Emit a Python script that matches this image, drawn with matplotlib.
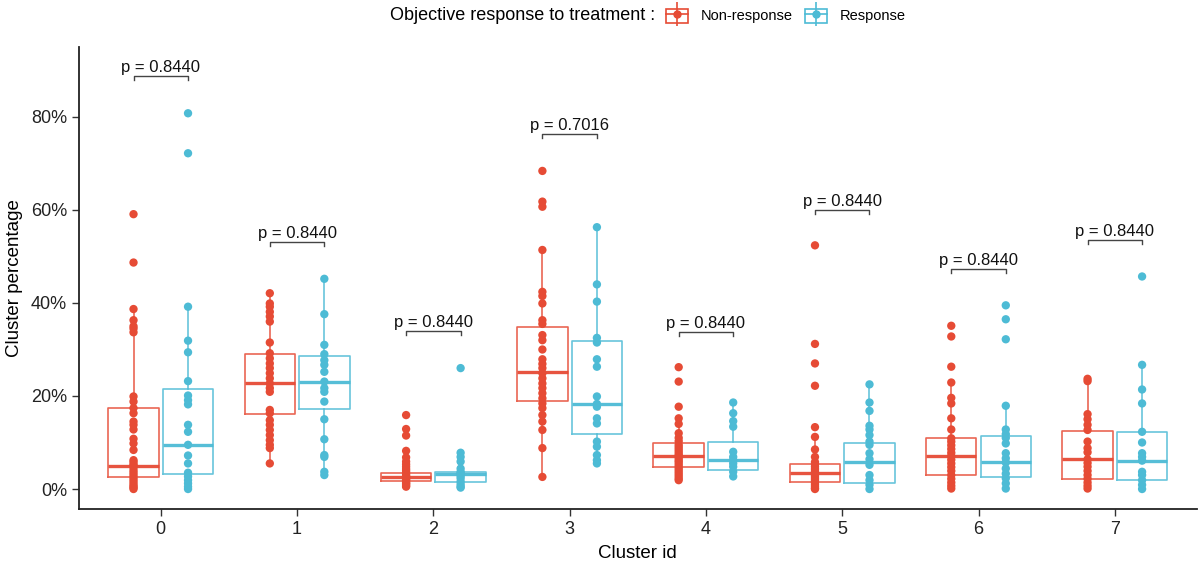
#!/usr/bin/env python3
"""
Cluster percentage by objective response, boxplots with points and p-value brackets
"""

import matplotlib
matplotlib.use("Agg")
import matplotlib.pyplot as plt
from matplotlib.lines import Line2D
from matplotlib.patches import Patch
from matplotlib.legend_handler import HandlerTuple
from matplotlib.ticker import PercentFormatter

plt.rcParams['font.family'] = ['Liberation Sans', 'DejaVu Sans']

# ---- data (percent) ----
clusters = ['0', '1', '2', '3', '4', '5', '6', '7']
groups = ['Non-response', 'Response']
colors = ['#E64B35', '#4DBBD5']

pts_nonresp = [
    [59.1, 48.7, 38.7, 36.3, 35.0, 34.5, 33.7, 19.9, 18.8, 17.4, 16.3, 14.5, 13.8, 12.8, 10.8, 9.8,
     8.4, 6.2, 5.8, 5.3, 5.0, 4.6, 4.0, 3.5, 3.0, 2.5, 2.0, 1.5, 1.0, 0.6, 0.3, 0.0],
    [42.1, 39.9, 39.2, 38.1, 37.1, 36.0, 31.5, 29.2, 28.1, 27.0, 26.0, 24.9, 23.8, 22.7, 21.7, 20.9,
     17.0, 16.3, 14.8, 13.8, 12.7, 11.6, 10.5, 9.5, 8.8, 5.5],
    [15.9, 12.9, 11.5, 8.2, 6.8, 5.9, 5.3, 4.8, 4.3, 3.9, 3.5, 3.1, 2.8, 2.5, 2.2, 2.0, 1.7, 1.4,
     1.2, 1.0, 0.7, 0.5],
    [68.4, 61.8, 60.7, 51.4, 42.4, 41.5, 39.9, 36.3, 35.5, 33.1, 32.0, 30.0, 27.9, 26.9, 26.0, 24.9,
     23.8, 22.7, 21.7, 20.6, 19.5, 18.4, 17.4, 15.9, 14.5, 12.7, 8.8, 2.6],
    [26.2, 23.1, 17.7, 15.2, 14.0, 12.0, 11.0, 10.3, 9.5, 9.0, 8.5, 8.0, 7.5, 7.1, 6.7, 6.2, 5.8,
     5.3, 4.8, 4.3, 3.8, 3.3, 2.8, 2.3, 1.9],
    [52.4, 31.2, 27.0, 22.2, 13.3, 11.2, 8.5, 6.9, 5.8, 5.3, 4.8, 4.3, 3.8, 3.4, 3.0, 2.6, 2.2, 1.8,
     1.4, 1.0, 0.6, 0.2, 0.0],
    [35.1, 32.8, 26.3, 22.9, 19.6, 18.4, 15.2, 12.8, 10.9, 10.2, 9.4, 8.6, 7.8, 7.1, 6.3, 5.5, 4.7,
     3.9, 3.0, 2.2, 1.4, 0.7, 0.1],
    [23.7, 23.2, 16.1, 15.0, 13.8, 12.7, 10.2, 8.8, 7.9, 6.4, 5.6, 4.8, 3.9, 3.0, 2.2, 1.4, 0.7, 0.1],
]
pts_resp = [
    [80.8, 72.2, 39.2, 31.9, 29.4, 23.2, 20.1, 19.1, 18.2, 13.8, 12.3, 9.5, 7.2, 5.5, 3.5, 2.7, 1.9,
     1.2, 0.5, 0.0],
    [45.2, 37.6, 31.0, 29.0, 27.7, 26.7, 25.2, 23.1, 21.7, 20.9, 18.8, 15.0, 10.7, 7.3, 6.9, 3.7, 3.0],
    [26.0, 7.8, 6.9, 5.9, 4.4, 3.7, 3.4, 3.2, 2.8, 2.3, 1.6, 1.0, 0.5, 0.3],
    [56.3, 44.0, 40.3, 32.5, 31.5, 27.9, 26.3, 19.9, 18.3, 17.7, 15.2, 14.1, 10.2, 9.1, 7.3, 6.2, 5.5],
    [18.6, 16.3, 14.6, 13.4, 8.0, 6.9, 6.2, 5.5, 4.8, 3.7, 2.7],
    [22.5, 18.6, 16.8, 13.6, 12.8, 11.6, 10.2, 9.5, 7.7, 6.4, 5.2, 3.0, 1.9, 0.9, 0.0],
    [39.5, 36.5, 32.2, 17.9, 12.8, 11.8, 11.0, 9.8, 7.7, 6.6, 5.7, 4.4, 3.3, 2.3, 1.2, 0.1],
    [45.7, 26.7, 21.4, 18.4, 12.3, 10.0, 7.7, 6.9, 6.1, 3.7, 3.0, 1.9, 0.9, 0.0],
]

# box statistics: q1, median, q3, whisker low, whisker high
q1_nonresp = [2.6, 16.1, 1.7, 19.0, 4.8, 1.4, 3.0, 2.2]
med_nonresp = [5.0, 22.9, 2.5, 25.1, 7.1, 3.4, 7.1, 6.4]
q3_nonresp = [17.4, 29.0, 3.4, 34.8, 9.8, 5.4, 10.9, 12.5]
lo_nonresp = [0.0, 5.5, 0.5, 2.6, 1.9, 0.0, 0.0, 0.0]
hi_nonresp = [38.7, 42.1, 5.9, 51.4, 15.2, 11.2, 22.9, 23.6]

q1_resp = [3.2, 17.1, 1.6, 11.8, 4.1, 1.2, 2.6, 1.9]
med_resp = [9.5, 23.1, 3.2, 18.3, 6.2, 5.7, 5.7, 6.1]
q3_resp = [21.4, 28.6, 3.7, 31.8, 10.2, 10.0, 11.4, 12.3]
lo_resp = [0.0, 3.0, 0.3, 5.5, 2.3, 0.0, 0.0, 0.0]
hi_resp = [39.2, 45.2, 6.9, 56.3, 18.6, 22.5, 17.9, 26.7]

p_values = ['0.8440', '0.8440', '0.8440', '0.7016', '0.8440', '0.8440', '0.8440', '0.8440']
bracket_y = [88.8, 53.1, 34.0, 76.3, 33.8, 60.0, 47.3, 53.5]


def box_stats(q1, med, q3, lo, hi):
    return [dict(q1=a, med=b, q3=c, whislo=d, whishi=e, fliers=[])
            for a, b, c, d, e in zip(q1, med, q3, lo, hi)]


fig = plt.figure(figsize=(12.01, 5.63), dpi=100)
ax = fig.add_axes([79 / 1201, 54 / 563, 1117.6 / 1201, 462 / 563])

x = list(range(len(clusters)))
dodge = 0.2
box_w = 0.37

all_pts = [pts_nonresp, pts_resp]
all_stats = [box_stats(q1_nonresp, med_nonresp, q3_nonresp, lo_nonresp, hi_nonresp),
             box_stats(q1_resp, med_resp, q3_resp, lo_resp, hi_resp)]

for g, (pts, stats, col) in enumerate(zip(all_pts, all_stats, colors)):
    off = -dodge if g == 0 else dodge
    pos = [i + off for i in x]
    # points sit on the box centre line
    for p, vals in zip(pos, pts):
        ax.scatter([p] * len(vals), vals, s=36, color=col, edgecolors='none', zorder=2)
    ax.bxp(stats, positions=pos, widths=box_w, showfliers=False, showcaps=False,
           patch_artist=False, manage_ticks=False,
           boxprops=dict(color=col, linewidth=1.2, alpha=0.85),
           whiskerprops=dict(color=col, linewidth=1.2, alpha=0.85),
           medianprops=dict(color=col, linewidth=2.4, alpha=0.95))

# p-value brackets
tip = 0.9
for i, (pv, yb) in enumerate(zip(p_values, bracket_y)):
    x0, x1 = i - dodge, i + dodge
    ax.plot([x0, x0, x1, x1], [yb - tip, yb, yb, yb - tip], color='#444444', lw=1.0, zorder=4)
    ax.text(i, yb + 0.8, 'p = ' + pv, ha='center', va='baseline', fontsize=12, color='#111111')

ax.set_xlim(-0.6, 7.6)
ax.set_ylim(-4.3, 95.05)
ax.set_xticks(x)
ax.set_xticklabels(clusters)
ax.set_yticks([0, 20, 40, 60, 80])
ax.yaxis.set_major_formatter(PercentFormatter(100, decimals=0))
ax.tick_params(labelsize=13, length=5, width=1, color='#333333', labelcolor='#222222')

for side in ['top', 'right']:
    ax.spines[side].set_visible(False)
for side in ['left', 'bottom']:
    ax.spines[side].set_linewidth(1.3)
    ax.spines[side].set_color('#222222')

ax.set_xlabel('Cluster id', fontsize=13.5, labelpad=5)
ax.set_ylabel('Cluster percentage', fontsize=13.5, labelpad=6)

# legend at the top, ggplot style
fig.text(655 / 1201, 1 - 16 / 563, 'Objective response to treatment :', ha='right', va='center',
         fontsize=13)
handles = []
for col in colors:
    handles.append((Patch(facecolor='none', edgecolor=col, linewidth=1.2),
                    Line2D([], [], color=col, lw=1.2, marker='o', ms=5),
                    Line2D([], [], color=col, marker='|', ms=17, mew=1.2, linestyle='none')))
fig.legend(handles, groups, loc='center left', bbox_to_anchor=(666 / 1201, 1 - 16 / 563),
           ncol=2, frameon=False, fontsize=10.5, handlelength=1.5, handleheight=1.1,
           handletextpad=0.9, columnspacing=0.8, borderpad=0, borderaxespad=0,
           handler_map={tuple: HandlerTuple(ndivide=1, pad=0)})

plt.savefig('out.png', dpi=100, facecolor='white')
plt.close()
